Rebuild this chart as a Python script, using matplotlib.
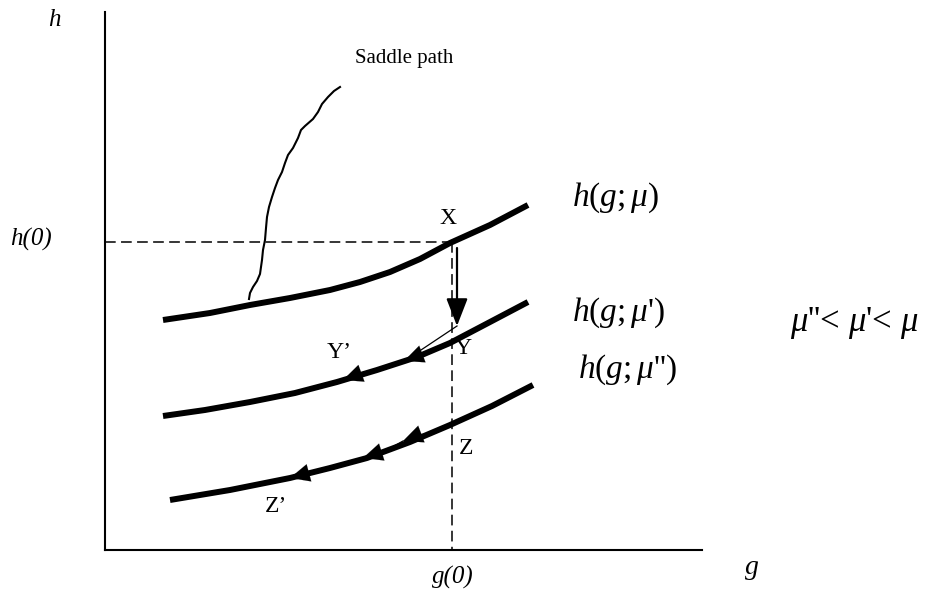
import matplotlib.pyplot as plt

plt.rcParams['font.family'] = ['Liberation Serif', 'DejaVu Serif']
plt.rcParams['mathtext.fontset'] = 'custom'
plt.rcParams['mathtext.rm'] = 'Liberation Serif'
plt.rcParams['mathtext.it'] = 'Liberation Serif:italic'

# Schematic coordinates (picture units, y grows downward)
origin = (105, 550)
y_top = 12
x_right = 702
g0 = 452
h0 = 242

# h(g; mu), h(g; mu'), h(g; mu'')
curve_mu_x = [163, 210, 250, 290, 330, 360, 390, 420, 450, 490, 528]
curve_mu_y = [320, 313, 305, 298, 290, 282, 272, 259, 243, 225, 205]
curve_mu1_x = [163, 205, 250, 295, 337, 377, 417, 450, 490, 528]
curve_mu1_y = [416, 410, 402, 393, 382, 370, 357, 343, 322, 302]
curve_mu2_x = [170, 230, 290, 330, 367, 410, 450, 492, 533]
curve_mu2_y = [500, 490, 478, 468, 458, 442, 425, 406, 385]

# hand-drawn saddle path
saddle_x = [249, 250, 253, 257, 260, 261, 262, 263, 265, 266, 267, 269, 272, 275,
            278, 282, 285, 288, 293, 298, 301, 305, 313, 318, 322, 328, 334, 340]
saddle_y = [299, 293, 287, 281, 274, 267, 260, 250, 240, 228, 217, 207, 197, 188,
            180, 172, 163, 155, 148, 138, 130, 126, 119, 112, 104, 97, 91, 87]

# arrowheads along the curves: (tail, tip)
curve_arrows = [((365, 372), (343, 380)),
                ((425, 353), (404, 361)),
                ((312, 472), (290, 478)),
                ((385, 451), (363, 458)),
                ((424, 433), (403, 441))]
# thin jump lines
jump_lines = [((457, 326), (418, 352)),
              ((385, 451), (403, 441))]
drop_start = (457, 248)
drop_end = (457, 326)

labels = [("h", 54, 20, 18, 'italic', 'center'),
          ("h(0)", 31, 239, 18, 'italic', 'center'),
          ("g(0)", 453, 577, 18, 'italic', 'center'),
          ("g", 752, 567, 20, 'italic', 'center'),
          ("Saddle path", 355, 58, 15, 'normal', 'left'),
          ("X", 448, 218, 17, 'normal', 'center'),
          ("Y", 463, 348, 17, 'normal', 'center'),
          ("Y\u2019", 339, 353, 17, 'normal', 'center'),
          ("Z", 466, 449, 17, 'normal', 'center'),
          ("Z\u2019", 276, 507, 17, 'normal', 'center')]
curve_labels = [(r"$h(g;\mu$)", 572, 198, 24),
                (r"$h(g;\mu$')", 572, 313, 24),
                (r"$h(g;\mu$'')", 578, 370, 24),
                (r"$\mu$''< $\mu$'< $\mu$", 790, 323, 25)]

fig = plt.figure(figsize=(9.38, 6.01), dpi=100)
ax = fig.add_axes([0, 0, 1, 1])
ax.set_xlim(0, 938)
ax.set_ylim(601, 0)
ax.axis('off')

# axes of the diagram
ax.plot([origin[0], origin[0]], [y_top, origin[1]], color='black', lw=1.5)
ax.plot([origin[0], x_right], [origin[1], origin[1]], color='black', lw=1.5)

# dashed guides at g(0), h(0)
ax.plot([origin[0], g0], [h0, h0], color='black', lw=1.1, ls=(0, (7, 3.5)))
ax.plot([g0, g0], [h0, origin[1]], color='black', lw=1.1, ls=(0, (7, 3.5)))

for xs, ys in [(curve_mu_x, curve_mu_y), (curve_mu1_x, curve_mu1_y), (curve_mu2_x, curve_mu2_y)]:
    ax.plot(xs, ys, color='black', lw=4.3, solid_capstyle='butt', solid_joinstyle='round')

ax.plot(saddle_x, saddle_y, color='black', lw=1.5, solid_joinstyle='round')

head = '-|>,head_length=0.7,head_width=0.32'
for tail, tip in curve_arrows:
    ax.annotate('', xy=tip, xytext=tail,
                arrowprops=dict(arrowstyle=head, mutation_scale=20,
                                color='black', lw=0.1, shrinkA=0, shrinkB=0))
for a, b in jump_lines:
    ax.plot([a[0], b[0]], [a[1], b[1]], color='black', lw=0.9)
ax.annotate('', xy=drop_end, xytext=drop_start,
            arrowprops=dict(arrowstyle='-|>,head_length=0.85,head_width=0.33',
                            mutation_scale=20, color='black', lw=1.6,
                            shrinkA=0, shrinkB=0))

for txt, x, y, size, style, ha in labels:
    ax.text(x, y, txt, fontsize=size, fontstyle=style, ha=ha, va='center')
for txt, x, y, size in curve_labels:
    ax.text(x, y, txt, fontsize=size, ha='left', va='center')

fig.savefig('out.png', dpi=100)
